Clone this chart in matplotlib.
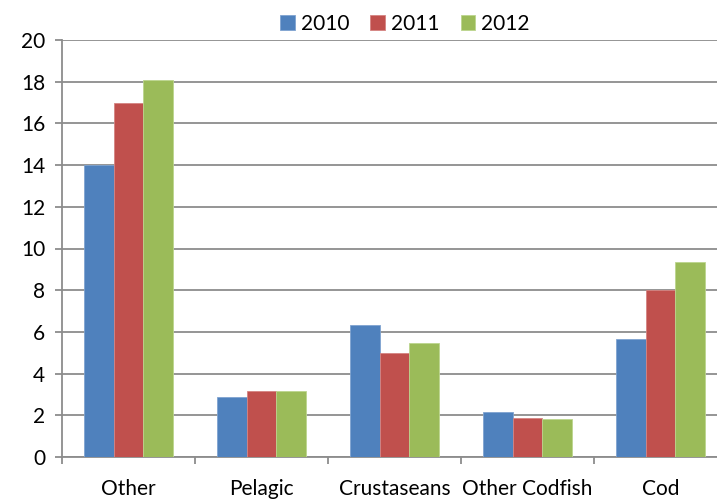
import matplotlib
matplotlib.use("Agg")
import matplotlib.pyplot as plt
import numpy as np

categories = ["Other", "Pelagic", "Crustaseans", "Other Codfish", "Cod"]
years = ["2010", "2011", "2012"]
v2010 = [14.0, 2.88, 6.32, 2.16, 5.66]
v2011 = [17.0, 3.15, 4.99, 1.88, 8.0]
v2012 = [18.1, 3.16, 5.47, 1.82, 9.33]
colors = ["#4F81BD", "#C0504D", "#9BBB59"]
edges = ["#7FA3D0", "#D58482", "#BCD58E"]

plt.rcParams['font.family'] = ['Lato', 'DejaVu Sans']
fig = plt.figure(figsize=(7.17, 5.01), dpi=100)
ax = fig.add_axes([62/717, 44/501, 665/717, 417/501])

x = np.arange(len(categories))
w = 0.222
for i, (vals, c, e, lab) in enumerate(zip([v2010, v2011, v2012], colors, edges, years)):
    ax.bar(x + (i - 1) * w, vals, w, color=c, edgecolor=e, linewidth=0.6, label=lab, zorder=3)

ax.set_xlim(-0.5, len(categories) - 0.5)
ax.set_ylim(0, 20)
ax.set_yticks(np.arange(0, 21, 2))
ax.yaxis.grid(True, color="#8C8C8C", linewidth=1.3, zorder=0)
ax.set_axisbelow(True)
for s in ["top", "right"]:
    ax.spines[s].set_visible(False)
for s in ["left", "bottom"]:
    ax.spines[s].set_color("#8C8C8C")
    ax.spines[s].set_linewidth(1.3)
ax.set_xticks(x)
ax.set_xticklabels(categories, fontsize=15)
ax.tick_params(axis='x', which='major', length=0, pad=16)
ax.set_xticks(np.arange(-0.5, len(categories), 1), minor=True)
ax.tick_params(axis='x', which='minor', length=5, width=1.3, color="#8C8C8C")
ax.tick_params(axis='y', length=5, width=1.3, color="#8C8C8C", labelsize=15, pad=7)

fig.legend(loc="upper center", bbox_to_anchor=(405/717, 1.01), ncol=3, frameon=False,
           fontsize=15, handlelength=0.7, handleheight=0.7, handletextpad=0.3,
           columnspacing=1.0)

fig.savefig("out.png", dpi=100)
